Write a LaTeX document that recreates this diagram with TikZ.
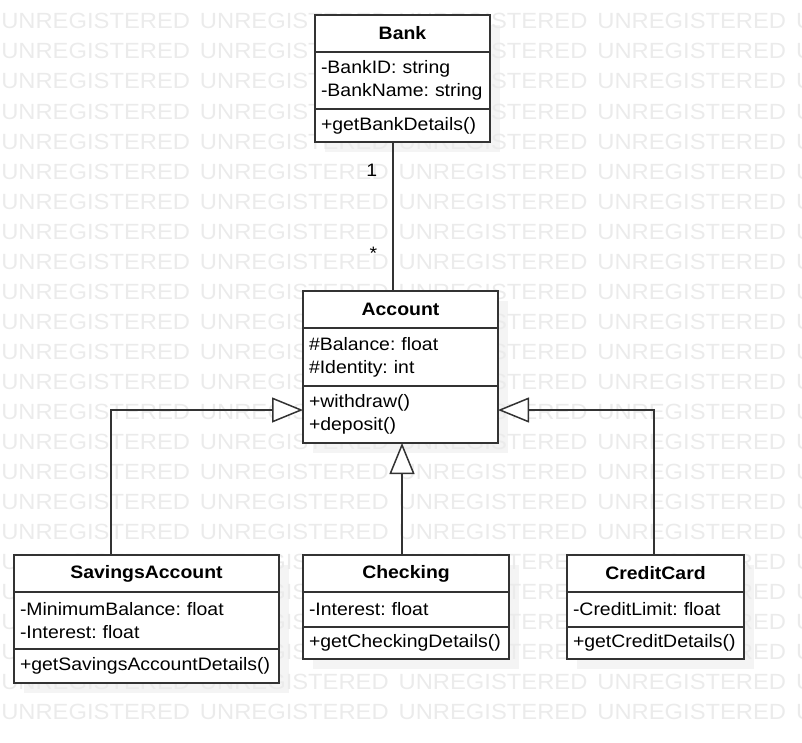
\documentclass[tikz,border=0pt]{standalone}
\usepackage{fontspec}
\setmainfont{Liberation Sans}[FakeStretch=1.08]
\usetikzlibrary{arrows.meta,positioning,backgrounds}

\newcommand\pix{0.75pt}
\newcommand\umlfont{\frenchspacing\fontsize{13.5}{17.25}\selectfont}
\definecolor{linecol}{HTML}{333333}
\definecolor{markcol}{HTML}{EBEBEB}
\definecolor{shadecol}{HTML}{F4F4F4}

\tikzset{
  umlbox/.style={draw=linecol, line width=1.125pt, fill=white, outer sep=0pt, inner ysep=0pt},
  classtitle/.style={umlbox, font=\umlfont\bfseries, minimum width=#1*\pix, minimum height=37*\pix},
  members/.style 2 args={umlbox, font=\umlfont, text width=(#1-12)*\pix, inner xsep=6*\pix, minimum height=#2*\pix, align=left},
  assoc/.style={draw=linecol, line width=1.125pt},
  generalize/.style={assoc, -{Triangle[length=23.25pt, width=18.75pt, fill=white]}},
  mult/.style={font=\umlfont, inner sep=0pt},
  watermark/.style={font=\fontsize{16.5}{16.5}\selectfont, text=markcol, inner sep=0pt, anchor=base west}
}

\begin{document}
\begin{tikzpicture}[x=\pix, y=-\pix]
    \useasboundingbox (0,0) rectangle (802,742);

    % Bank
    \node[classtitle=175] (bank) at (402.5,33.5) {Bank};
    \node[members={175}{57}, below=0pt of bank] (bank-a) {-BankID: string\\-BankName: string};
    \node[members={175}{33}, below=0pt of bank-a] (bank-m) {+getBankDetails()};

    % Account
    \node[classtitle=195] (acc) at (400.5,309.5) {Account};
    \node[members={195}{58}, below=0pt of acc] (acc-a) {\#Balance: float\\\#Identity: int};
    \node[members={195}{57}, below=0pt of acc-a] (acc-m) {+withdraw()\\+deposit()};

    % subclasses
    \node[classtitle=265] (sav) at (146.5,573.5) {SavingsAccount};
    \node[members={265}{57}, below=0pt of sav] (sav-a) {-MinimumBalance: float\\-Interest: float};
    \node[members={265}{34}, below=0pt of sav-a] (sav-m) {+getSavingsAccountDetails()};

    \node[classtitle=206] (chk) at (406,573.5) {Checking};
    \node[members={206}{35}, below=0pt of chk] (chk-a) {-Interest: float};
    \node[members={206}{32}, below=0pt of chk-a] (chk-m) {+getCheckingDetails()};

    \node[classtitle=177] (cc) at (655.5,573.5) {CreditCard};
    \node[members={177}{35}, below=0pt of cc] (cc-a) {-CreditLimit: float};
    \node[members={177}{32}, below=0pt of cc-a] (cc-m) {+getCreditDetails()};

    % association
    \coordinate (assoc-top) at ([xshift=-9.5*\pix]bank-m.south);
    \draw[assoc] (assoc-top) -- (assoc-top |- acc.north)
        node[mult, left=15*\pix, pos=0.19] (mult-bank) {1}
        node[mult, left=15*\pix, pos=0.745] (mult-acc) {*};

    % generalizations
    \coordinate (sav-top) at ([xshift=-35.5*\pix]sav.north);
    \coordinate (chk-top) at ([xshift=-4*\pix]chk.north);
    \draw[generalize] (sav-top) |- ([yshift=4.5*\pix]acc-m.west);
    \draw[generalize] (chk-top) -- (chk-top |- acc-m.south);
    \draw[generalize] ([xshift=-1.5*\pix]cc.north) |- ([yshift=4.5*\pix]acc-m.east);

    \begin{pgfonlayer}{background}
        \foreach \cls/\last in {bank/bank-m, acc/acc-m, sav/sav-m, chk/chk-m, cc/cc-m}
            \fill[shadecol] ([shift={(10,10)}]\cls.north west) rectangle ([shift={(10,10)}]\last.south east);
        \foreach \row in {0,...,23}
            \foreach \col in {0,...,4}
                \node[watermark] (wm-\row-\col) at (198.7*\col+1, 29+30*\row) {UNREGISTERED};
    \end{pgfonlayer}
\end{tikzpicture}
\end{document}
